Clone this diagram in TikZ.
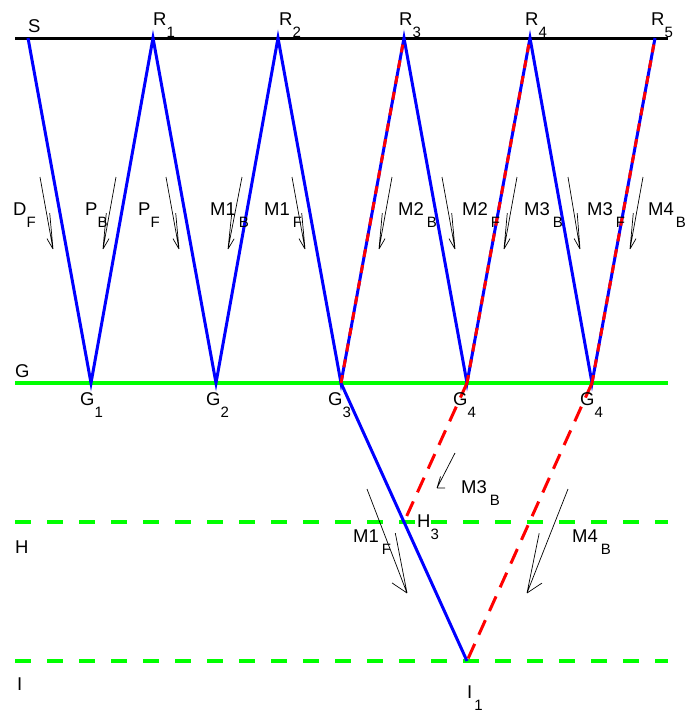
\documentclass[tikz,border=0pt]{standalone}
\usepackage{fontspec}
\setmainfont{Liberation Sans}
\usetikzlibrary{calc}
\definecolor{pblue}{RGB}{0,0,255}
\definecolor{pgreen}{RGB}{0,255,0}
\definecolor{pred}{RGB}{255,0,0}
\newcommand{\lbl}[2]{#1\raisebox{-12pt}{\fontsize{15}{15}\selectfont #2}}
% arrow: start, tip, long barb length, long barb angle, short barb length, short barb angle
\newcommand{\farrow}[6]{\draw[thinarrow] (#1) -- (#2) -- ($(#2)!#3!#4:(#1)$) (#2) -- ($(#2)!#5!#6:(#1)$);}
\tikzset{
  lab/.style={anchor=base west, inner sep=0pt, font=\fontsize{18.5}{18.5}\selectfont},
  ray/.style={draw=pblue, line width=3pt, line join=miter},
  redover/.style={draw=pred, line width=3pt, dash pattern=on 8pt off 8pt},
  reddash/.style={draw=pred, line width=3pt, dash pattern=on 16pt off 10pt},
  surface/.style={draw=black, line width=3pt},
  gsolid/.style={draw=pgreen, line width=4pt},
  gdash/.style={draw=pgreen, line width=4pt, dash pattern=on 16pt off 16pt},
  thinarrow/.style={draw=black, line width=0.7pt},
}
\begin{document}
\begin{tikzpicture}[x=1pt,y=-1pt]
\useasboundingbox (0,0) rectangle (688,713);
% horizons
\coordinate (topL) at (15,38);  \coordinate (topR) at (668,38);
\coordinate (gL) at (15,383);   \coordinate (gR) at (668,383);
\coordinate (hL) at (15,522);   \coordinate (hR) at (668,522);
\coordinate (iL) at (15,661);   \coordinate (iR) at (668,661);
% ray points
\coordinate (S) at (28,38);
\coordinate (R1) at (153,38);
\coordinate (R2) at (278,38);
\coordinate (R3) at (404,38);
\coordinate (R4) at (530,38);
\coordinate (R5) at (655,38);
\coordinate (G1) at (91,383);
\coordinate (G2) at (216,383);
\coordinate (G3) at (341,383);
\coordinate (G4) at (467,383);
\coordinate (G4b) at (592,383);
\coordinate (H3) at (404,522);
\coordinate (I1) at (467,661);

\draw[surface] (topL) -- (topR);
\draw[gsolid] (gL) -- (gR);
\draw[gdash] (hL) -- (hR);
\draw[gdash] (iL) -- (iR);

\draw[ray] (S) -- (G1) -- (R1) -- (G2) -- (R2) -- (G3) -- (R3) -- (G4) -- (R4) -- (G4b) -- (R5);
\draw[ray] (G3) -- (H3) -- (I1);
\draw[redover] (G3) -- (R3);
\draw[redover] (G4) -- (R4);
\draw[redover] (G4b) -- (R5);
\draw[reddash] (G4) -- (H3);
\draw[reddash] (G4b) -- (I1);

% arrows (upper)
\coordinate (aDFs) at (40,177);  \coordinate (aDFt) at (53,249);
\coordinate (aPBs) at (116,177); \coordinate (aPBt) at (103,249);
\coordinate (aPFs) at (166,177); \coordinate (aPFt) at (179,249);
\coordinate (aMaBs) at (242,177); \coordinate (aMaBt) at (228,249);
\coordinate (aMaFs) at (292,177); \coordinate (aMaFt) at (305,249);
\coordinate (aMbBs) at (392,177); \coordinate (aMbBt) at (379,249);
\coordinate (aMbFs) at (442,177); \coordinate (aMbFt) at (455,249);
\coordinate (aMcBs) at (517,177); \coordinate (aMcBt) at (504,249);
\coordinate (aMcFs) at (568,177); \coordinate (aMcFt) at (580,249);
\coordinate (aMdBs) at (643,177); \coordinate (aMdBt) at (630,249);
\farrow{aDFs}{aDFt}{36pt}{-5}{12pt}{20}
\farrow{aPBs}{aPBt}{36pt}{5}{12pt}{-20}
\farrow{aPFs}{aPFt}{36pt}{-5}{12pt}{20}
\farrow{aMaBs}{aMaBt}{36pt}{5}{12pt}{-20}
\farrow{aMaFs}{aMaFt}{36pt}{-5}{12pt}{20}
\farrow{aMbBs}{aMbBt}{36pt}{5}{12pt}{-20}
\farrow{aMbFs}{aMbFt}{36pt}{-5}{12pt}{20}
\farrow{aMcBs}{aMcBt}{36pt}{5}{12pt}{-20}
\farrow{aMcFs}{aMcFt}{36pt}{-5}{12pt}{20}
\farrow{aMdBs}{aMdBt}{36pt}{5}{12pt}{-20}
% arrows (lower)
\coordinate (lMcBs) at (455,453); \coordinate (lMcBt) at (437,488);
\coordinate (lMaFs) at (367,489); \coordinate (lMaFt) at (407,593);
\coordinate (lMdBs) at (568,489); \coordinate (lMdBt) at (527,593);
\farrow{lMcBs}{lMcBt}{12pt}{10}{8pt}{-63}
\farrow{lMaFs}{lMaFt}{61pt}{-10}{18pt}{35}
\farrow{lMdBs}{lMdBt}{61pt}{10}{18pt}{-35}

% labels
\node[lab] (tS) at (28,32) {S};
\node[lab] (tR1) at (153,25) {\lbl{R}{1}};
\node[lab] (tR2) at (279,25) {\lbl{R}{2}};
\node[lab] (tR3) at (399,25) {\lbl{R}{3}};
\node[lab] (tR4) at (525,25) {\lbl{R}{4}};
\node[lab] (tR5) at (651,25) {\lbl{R}{5}};
\node[lab] (tG) at (15,377) {G};
\node[lab] (tH) at (15,553) {H};
\node[lab] (tI) at (17,690) {I};
\node[lab] (tG1) at (80,405) {\lbl{G}{1}};
\node[lab] (tG2) at (206,405) {\lbl{G}{2}};
\node[lab] (tG3) at (328,405) {\lbl{G}{3}};
\node[lab] (tG4) at (453,405) {\lbl{G}{4}};
\node[lab] (tG4b) at (580,405) {\lbl{G}{4}};
\node[lab] (tH3) at (417,527) {\lbl{H}{3}};
\node[lab] (tI1) at (467,698) {\lbl{I\hspace{2pt}}{1}};
\node[lab] (tDF) at (13,215) {\lbl{D}{F}};
\node[lab] (tPB) at (85,215) {\lbl{P}{B}};
\node[lab] (tPF) at (138,215) {\lbl{P}{F}};
\node[lab] (tMaB) at (210,215) {\lbl{M1\hspace{3pt}}{B}};
\node[lab] (tMaF) at (264,215) {\lbl{M1\hspace{3pt}}{F}};
\node[lab] (tMbB) at (398,215) {\lbl{M2\hspace{3pt}}{B}};
\node[lab] (tMbF) at (462,215) {\lbl{M2\hspace{3pt}}{F}};
\node[lab] (tMcB) at (524,215) {\lbl{M3\hspace{3pt}}{B}};
\node[lab] (tMcF) at (587,215) {\lbl{M3\hspace{3pt}}{F}};
\node[lab] (tMdB) at (648,215) {\lbl{M4\hspace{2pt}}{B}};
\node[lab] (tlMcB) at (461,493) {\lbl{M3\hspace{3pt}}{B}};
\node[lab] (tlMaF) at (353,542) {\lbl{M1\hspace{3pt}}{F}};
\node[lab] (tlMdB) at (572,542) {\lbl{M4\hspace{3pt}}{B}};
\end{tikzpicture}
\end{document}
